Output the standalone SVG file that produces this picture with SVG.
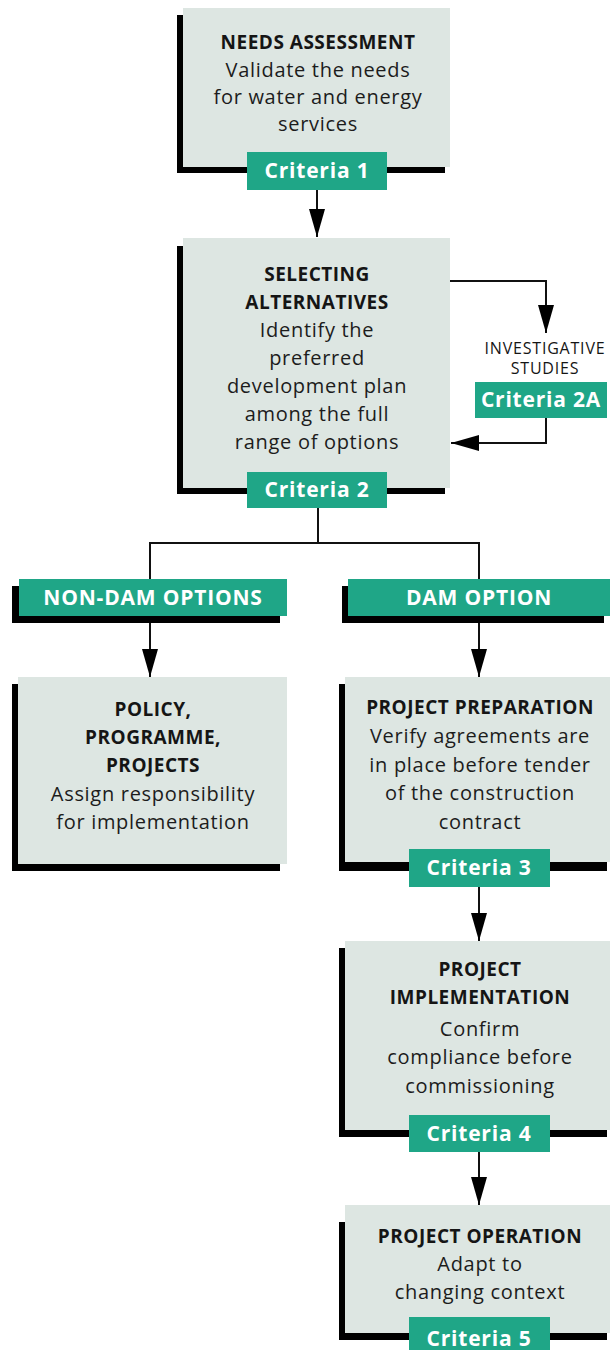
<svg xmlns="http://www.w3.org/2000/svg" width="610" height="1350" viewBox="0 0 610 1350">
  <defs>
    <style>
      .bg { fill: #ffffff; }
      .shadow { fill: #000000; }
      .box { fill: #dde6e2; }
      .tab { fill: #1fa687; }
      .title { font-family: "Open Sans", "Liberation Sans", sans-serif; font-weight: 700; font-size: 19px; letter-spacing: 0.5px; fill: #151515; text-anchor: middle; }
      .body { font-family: "Open Sans", "Liberation Sans", sans-serif; font-size: 20px; letter-spacing: 0.7px; fill: #1c1c1c; text-anchor: middle; }
      .tabtext { font-family: "Open Sans", "Liberation Sans", sans-serif; font-weight: 700; font-size: 21px; letter-spacing: 0.8px; fill: #ffffff; text-anchor: middle; }
      .small { font-family: "Open Sans", "Liberation Sans", sans-serif; font-size: 16px; letter-spacing: 0.8px; fill: #151515; text-anchor: middle; }
      .wire { fill: none; stroke: #111111; stroke-width: 2; }
    </style>
    <!-- long, slender arrowhead -->
    <marker id="arrow" viewBox="0 0 28 16" refX="28" refY="8" markerWidth="28" markerHeight="16" markerUnits="userSpaceOnUse" orient="auto">
      <path d="M0,0 L28,8 L0,16 z" fill="#000000"/>
    </marker>
  </defs>

  <rect class="bg" x="0" y="0" width="610" height="1350"/>

  <!-- connectors -->
  <g id="connectors">
    <path class="wire" d="M317,190 V237" marker-end="url(#arrow)"/>
    <path class="wire" d="M450,281 H546 V333" marker-end="url(#arrow)"/>
    <path class="wire" d="M546,418 V443 H451" marker-end="url(#arrow)"/>
    <path class="wire" d="M318,508 V543 H150 V579"/>
    <path class="wire" d="M318,543 H479 V579"/>
    <path class="wire" d="M150,623 V677" marker-end="url(#arrow)"/>
    <path class="wire" d="M479,623 V677" marker-end="url(#arrow)"/>
    <path class="wire" d="M479,887 V941" marker-end="url(#arrow)"/>
    <path class="wire" d="M479,1152 V1205" marker-end="url(#arrow)"/>
  </g>

  <!-- needs assessment -->
  <g id="needs-assessment">
    <rect class="shadow" x="177" y="15" width="268" height="158"/>
    <rect class="box" x="183" y="8" width="267" height="159"/>
    <text class="title" x="318" y="49">NEEDS ASSESSMENT</text>
    <text class="body" x="318" y="77">Validate the needs</text>
    <text class="body" x="318" y="104">for water and energy</text>
    <text class="body" x="318" y="131">services</text>
    <rect class="tab" x="247" y="152" width="140" height="38"/>
    <text class="tabtext" x="317" y="178">Criteria 1</text>
  </g>

  <!-- selecting alternatives -->
  <g id="selecting-alternatives">
    <rect class="shadow" x="177" y="246" width="268" height="248"/>
    <rect class="box" x="183" y="238" width="267" height="250"/>
    <text class="title" x="317" y="281">SELECTING</text>
    <text class="title" x="317" y="309">ALTERNATIVES</text>
    <text class="body" x="317" y="337">Identify the</text>
    <text class="body" x="317" y="365">preferred</text>
    <text class="body" x="317" y="393">development plan</text>
    <text class="body" x="317" y="421">among the full</text>
    <text class="body" x="317" y="449">range of options</text>
    <rect class="tab" x="247" y="472" width="140" height="36"/>
    <text class="tabtext" x="317" y="497">Criteria 2</text>
  </g>

  <!-- investigative studies -->
  <g id="investigative-studies">
    <text class="small" x="545" y="354">INVESTIGATIVE</text>
    <text class="small" x="545" y="374">STUDIES</text>
    <rect class="tab" x="475" y="382" width="132" height="36"/>
    <text class="tabtext" x="541" y="407">Criteria 2A</text>
  </g>

  <!-- non-dam options -->
  <g id="non-dam-options">
    <rect class="shadow" x="12" y="586" width="268" height="37"/>
    <rect class="tab" x="19" y="579" width="268" height="37"/>
    <text class="tabtext" x="153" y="605">NON-DAM OPTIONS</text>
  </g>

  <!-- dam option -->
  <g id="dam-option">
    <rect class="shadow" x="342" y="586" width="262" height="37"/>
    <rect class="tab" x="348" y="579" width="262" height="37"/>
    <text class="tabtext" x="479" y="605">DAM OPTION</text>
  </g>

  <!-- policy, programme, projects -->
  <g id="policy-programme-projects">
    <rect class="shadow" x="12" y="684" width="268" height="187"/>
    <rect class="box" x="18" y="677" width="269" height="187"/>
    <text class="title" x="153" y="716">POLICY,</text>
    <text class="title" x="153" y="744">PROGRAMME,</text>
    <text class="title" x="153" y="772">PROJECTS</text>
    <text class="body" x="153" y="801">Assign responsibility</text>
    <text class="body" x="153" y="829">for implementation</text>
  </g>

  <!-- project preparation -->
  <g id="project-preparation">
    <rect class="shadow" x="339" y="684" width="268" height="187"/>
    <rect class="box" x="345" y="677" width="265" height="185"/>
    <text class="title" x="480" y="714">PROJECT PREPARATION</text>
    <text class="body" x="480" y="743">Verify agreements are</text>
    <text class="body" x="480" y="772">in place before tender</text>
    <text class="body" x="480" y="800">of the construction</text>
    <text class="body" x="480" y="829">contract</text>
    <rect class="tab" x="409" y="849" width="141" height="38"/>
    <text class="tabtext" x="479" y="875">Criteria 3</text>
  </g>

  <!-- project implementation -->
  <g id="project-implementation">
    <rect class="shadow" x="339" y="948" width="268" height="189"/>
    <rect class="box" x="345" y="941" width="265" height="189"/>
    <text class="title" x="480" y="976">PROJECT</text>
    <text class="title" x="480" y="1004">IMPLEMENTATION</text>
    <text class="body" x="480" y="1036">Confirm</text>
    <text class="body" x="480" y="1064">compliance before</text>
    <text class="body" x="480" y="1093">commissioning</text>
    <rect class="tab" x="409" y="1115" width="141" height="37"/>
    <text class="tabtext" x="479" y="1141">Criteria 4</text>
  </g>

  <!-- project operation -->
  <g id="project-operation">
    <rect class="shadow" x="339" y="1222" width="268" height="118"/>
    <rect class="box" x="345" y="1205" width="265" height="128"/>
    <text class="title" x="480" y="1243">PROJECT OPERATION</text>
    <text class="body" x="480" y="1271">Adapt to</text>
    <text class="body" x="480" y="1299">changing context</text>
    <rect class="tab" x="409" y="1317" width="141" height="33"/>
    <text class="tabtext" x="479" y="1346">Criteria 5</text>
  </g>
</svg>
